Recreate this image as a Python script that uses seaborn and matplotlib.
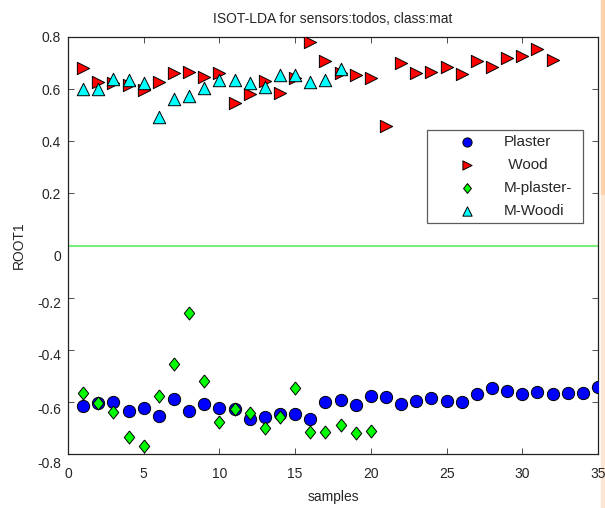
import numpy as np
import pandas as pd
import matplotlib
matplotlib.use("Agg")
import matplotlib.pyplot as plt
from matplotlib.patches import Rectangle
from matplotlib.transforms import ScaledTranslation
import seaborn as sns

sns.set_style("ticks")
plt.rcParams['font.family'] = ['Liberation Sans', 'DejaVu Sans']

# ---- data ----
plaster_x = list(range(1, 36))
plaster_y = [-0.615, -0.606, -0.599, -0.634, -0.625, -0.653, -0.590, -0.634, -0.609, -0.625,
             -0.629, -0.667, -0.657, -0.647, -0.647, -0.666, -0.599, -0.592, -0.612, -0.578,
             -0.580, -0.608, -0.597, -0.586, -0.596, -0.599, -0.571, -0.548, -0.558, -0.571,
             -0.561, -0.571, -0.567, -0.567, -0.542]

wood_x = list(range(1, 33))
wood_y = [0.680, 0.629, 0.622, 0.616, 0.596, 0.629, 0.663, 0.667, 0.645, 0.663,
          0.548, 0.582, 0.632, 0.584, 0.642, 0.782, 0.709, 0.660, 0.654, 0.644,
          0.458, 0.699, 0.660, 0.667, 0.684, 0.658, 0.708, 0.684, 0.720, 0.728,
          0.753, 0.712]

mplaster_x = list(range(1, 21))
mplaster_y = [-0.567, -0.603, -0.638, -0.734, -0.768, -0.578, -0.455, -0.258, -0.520, -0.676,
              -0.627, -0.642, -0.702, -0.657, -0.548, -0.717, -0.717, -0.689, -0.721, -0.711]

mwood_x = list(range(1, 19))
mwood_y = [0.601, 0.601, 0.638, 0.635, 0.624, 0.494, 0.562, 0.573, 0.605, 0.635,
           0.635, 0.622, 0.609, 0.654, 0.654, 0.629, 0.635, 0.676]

labels = ["Plaster", " Wood", "M-plaster-", "M-Woodi"]
colors = ["#0000FF", "#FF0000", "#00FF00", "#00FFFF"]
threshold = [0.0]

title = "ISOT-LDA for sensors:todos, class:mat"
xticks = [0, 5, 10, 15, 20, 25, 30, 35]
yticks = [-0.8, -0.6, -0.4, -0.2, 0, 0.2, 0.4, 0.6, 0.8]
ytick_labels = ["-0.8", "-0.6", "-0.4", "-0.2", "0", "0.2", "0.4", "0.6", "0.8"]

diamond = [(0, 1), (0.8, 0), (0, -1), (-0.8, 0), (0, 1)]
markers = ["o", ">", diamond, "^"]
sizes = [78, 78, 88, 80]

fig = plt.figure(figsize=(6.05, 5.08), dpi=100)
ax = fig.add_axes([68 / 605, 1 - 454 / 508, 530 / 605, 417 / 508])

# peach strip on the right edge of the picture
fig.patches.append(Rectangle((601 / 605, 1 - 195 / 508), 4 / 605, 195 / 508,
                             transform=fig.transFigure, color="#FAD2AC", zorder=-5))
fig.patches.append(Rectangle((601 / 605, 0), 4 / 605, 1 - 195 / 508,
                             transform=fig.transFigure, color="#FDE6D4", zorder=-5))

ax.axhline(threshold[0], color="#7DEE7D", lw=1.5, zorder=1)

series = [(plaster_x, plaster_y), (wood_x, wood_y), (mplaster_x, mplaster_y), (mwood_x, mwood_y)]
for (xs, ys), lab, col, mk, sz in zip(series, labels, colors, markers, sizes):
    df = pd.DataFrame({"samples": xs, "ROOT1": ys})
    sns.scatterplot(data=df, x="samples", y="ROOT1", marker=mk, color=col, s=sz,
                    edgecolor="black", linewidth=0.7, label=lab, ax=ax, zorder=3)

ax.set_xlim(0, 35)
ax.set_ylim(-0.8, 0.8)
ax.set_xticks(xticks)
ax.set_yticks(yticks)
ax.set_yticklabels(ytick_labels)
ax.set_title(title, fontsize=10, pad=10)
ax.set_xlabel("samples", fontsize=10, labelpad=7)
ax.set_ylabel("ROOT1", fontsize=10, labelpad=8)
ax.tick_params(direction="in", top=True, right=True, length=4, width=0.6,
               labelsize=10, color="#333333")
ax.tick_params(axis="x", pad=9)
ax.tick_params(axis="y", pad=5)
for sp in ax.spines.values():
    sp.set_color("#222222")
    sp.set_linewidth(0.9)

leg = ax.legend(loc="upper left", bbox_to_anchor=(0.677, 0.0, 0.295, 0.777),
                mode="expand", borderaxespad=0, fontsize=11, frameon=True,
                fancybox=False, edgecolor="#333333", handlelength=4.6,
                handletextpad=0.1, labelspacing=0.58, borderpad=0.35,
                markerscale=0.75)
leg.get_frame().set_linewidth(0.9)

fig.canvas.draw()
offsets = {"0": 10, "-0.2": 5, "-0.4": 5, "-0.6": 7, "-0.8": 9}
for lbl in ax.get_yticklabels():
    dy = offsets.get(lbl.get_text(), 0)
    if dy:
        lbl.set_transform(lbl.get_transform() + ScaledTranslation(0, -dy / 100, fig.dpi_scale_trans))

fig.savefig("out.png", dpi=100)
